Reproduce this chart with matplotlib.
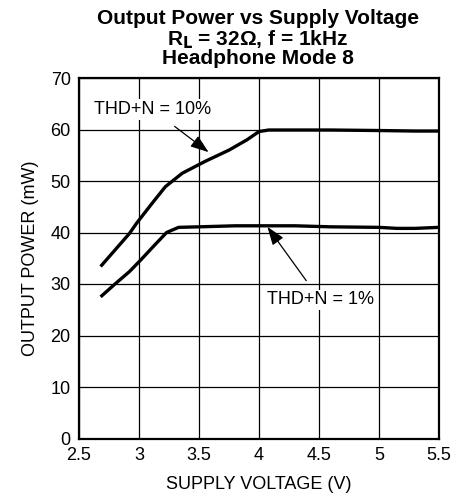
import matplotlib
matplotlib.use('Agg')
import matplotlib.pyplot as plt

plt.rcParams['font.family'] = ['Liberation Sans', 'DejaVu Sans']

# THD+N = 10%
v10 = [2.68, 2.80, 2.92, 2.98, 3.10, 3.22, 3.36, 3.55, 3.75, 3.90, 4.00, 4.08, 4.30, 4.60, 5.00, 5.30, 5.50]
p10 = [33.4, 36.6, 39.8, 41.8, 45.4, 48.9, 51.5, 53.8, 56.0, 58.0, 59.6, 59.9, 59.9, 59.9, 59.8, 59.7, 59.7]
# THD+N = 1%
v1 = [2.68, 2.80, 2.92, 3.02, 3.12, 3.23, 3.33, 3.50, 3.80, 4.08, 4.30, 4.60, 5.00, 5.15, 5.30, 5.50]
p1 = [27.5, 30.0, 32.4, 34.8, 37.3, 40.0, 41.0, 41.1, 41.3, 41.3, 41.3, 41.1, 41.0, 40.8, 40.8, 41.0]

xticks = [2.5, 3, 3.5, 4, 4.5, 5, 5.5]
xticklabels = ['2.5', '3', '3.5', '4', '4.5', '5', '5.5']
yticks = [0, 10, 20, 30, 40, 50, 60, 70]

fig = plt.figure(figsize=(4.59, 5.0), dpi=100)
ax = fig.add_axes([79 / 459, 1 - 438.5 / 500, (439 - 79) / 459, (438.5 - 78) / 500])

ax.plot(v10, p10, color='black', lw=2.4, solid_capstyle='butt')
ax.plot(v1, p1, color='black', lw=2.4, solid_capstyle='butt')

ax.set_xlim(2.5, 5.5)
ax.set_ylim(0, 70)
ax.set_xticks(xticks)
ax.set_xticklabels(xticklabels)
ax.set_yticks(yticks)
ax.grid(True, color='black', lw=0.9)
ax.set_axisbelow(True)
ax.tick_params(length=0, labelsize=13)
ax.tick_params(axis='x', pad=6)
ax.tick_params(axis='y', pad=6)
for s in ax.spines.values():
    s.set_linewidth(1.6)

ax.set_xlabel('SUPPLY VOLTAGE (V)', fontsize=13, labelpad=9)
ax.set_ylabel('OUTPUT POWER (mW)', fontsize=13, labelpad=8)

fig.text(258 / 459, 1 - 18 / 500, 'Output Power vs Supply Voltage', ha='center', va='center',
         fontsize=15, fontweight='bold')
fig.text(258 / 459, 1 - 40 / 500, r'R$_\mathbf{L}$ = 32Ω, f = 1kHz', ha='center', va='center',
         fontsize=15, fontweight='bold')
fig.text(258 / 459, 1 - 59 / 500, 'Headphone Mode 8', ha='center', va='center',
         fontsize=15, fontweight='bold')

ax.annotate('THD+N = 10%', xy=(3.58, 55.6), xytext=(3.11, 63.9),
            ha='center', va='center', fontsize=13,
            bbox=dict(boxstyle='square,pad=0.1', fc='white', ec='none'),
            arrowprops=dict(arrowstyle='-|>,head_length=0.7,head_width=0.25', color='black', lw=0.9,
                            mutation_scale=16, shrinkA=8, shrinkB=0))
ax.annotate('THD+N = 1%', xy=(4.07, 41.1), xytext=(4.51, 26.9),
            ha='center', va='center', fontsize=13,
            bbox=dict(boxstyle='square,pad=0.1', fc='white', ec='none'),
            arrowprops=dict(arrowstyle='-|>,head_length=0.7,head_width=0.25', color='black', lw=0.9,
                            mutation_scale=16, shrinkA=8, shrinkB=0))

fig.savefig('out.png', dpi=100)
